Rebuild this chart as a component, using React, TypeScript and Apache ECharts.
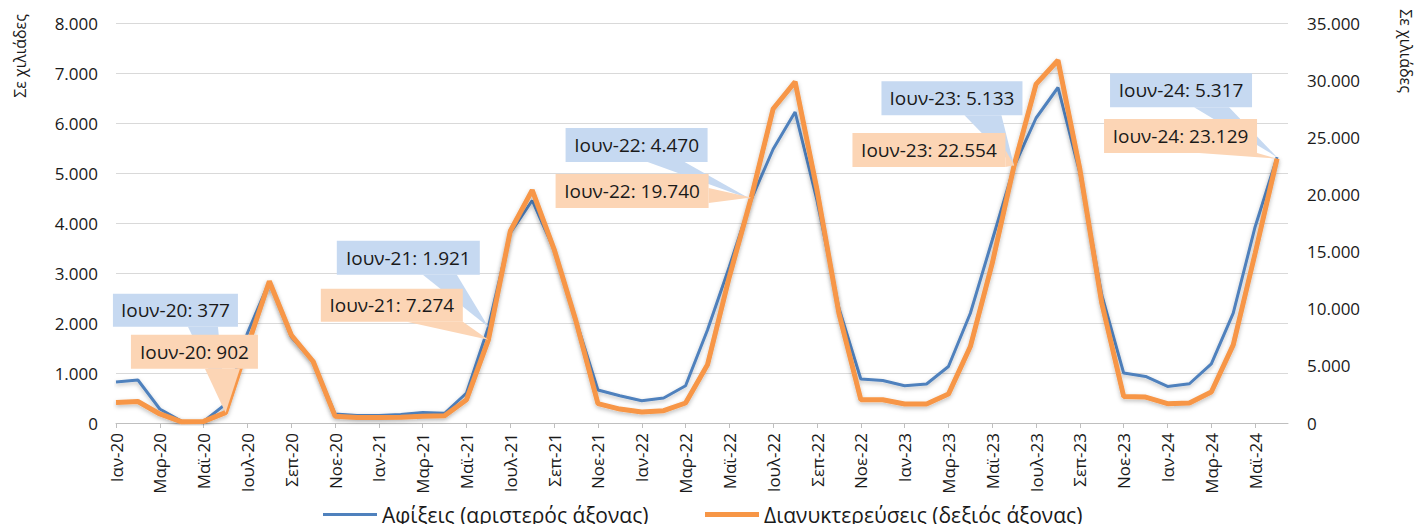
import React, { useEffect, useRef } from "react";
import * as echarts from "echarts";

const categories = [
  "Ιαν-20","Φεβ-20","Μαρ-20","Απρ-20","Μαϊ-20","Ιουν-20","Ιουλ-20","Αυγ-20","Σεπ-20","Οκτ-20","Νοε-20","Δεκ-20",
  "Ιαν-21","Φεβ-21","Μαρ-21","Απρ-21","Μαϊ-21","Ιουν-21","Ιουλ-21","Αυγ-21","Σεπ-21","Οκτ-21","Νοε-21","Δεκ-21",
  "Ιαν-22","Φεβ-22","Μαρ-22","Απρ-22","Μαϊ-22","Ιουν-22","Ιουλ-22","Αυγ-22","Σεπ-22","Οκτ-22","Νοε-22","Δεκ-22",
  "Ιαν-23","Φεβ-23","Μαρ-23","Απρ-23","Μαϊ-23","Ιουν-23","Ιουλ-23","Αυγ-23","Σεπ-23","Οκτ-23","Νοε-23","Δεκ-23",
  "Ιαν-24","Φεβ-24","Μαρ-24","Απρ-24","Μαϊ-24","Ιουν-24",
];

// Αφίξεις (χιλιάδες) – αριστερός άξονας
const arrivals = [
  820, 860, 280, 35, 30, 377, 1800, 2830, 1720, 1230, 180, 150,
  150, 170, 210, 195, 600, 1921, 3800, 4450, 3460, 2050, 660, 545,
  445, 500, 745, 1860, 3130, 4470, 5480, 6220, 4450, 2300, 880, 850,
  745, 780, 1130, 2196, 3660, 5133, 6100, 6710, 4990, 2560, 998, 931,
  731, 785, 1184, 2196, 3926, 5317,
];

// Διανυκτερεύσεις (χιλιάδες) – δεξιός άξονας
const overnights = [
  1800, 1880, 790, 100, 140, 902, 6700, 12400, 7700, 5380, 600, 490,
  480, 500, 580, 640, 2036, 7274, 16800, 20380, 15200, 8900, 1690, 1220,
  960, 1075, 1750, 5090, 12800, 19740, 27500, 29850, 20400, 9600, 2040, 2030,
  1660, 1670, 2530, 6690, 13980, 22554, 29650, 31740, 22200, 10480, 2320, 2270,
  1690, 1750, 2710, 6840, 14850, 23129,
];

const leftTicks = { min: 0, max: 8000, interval: 1000 };
const rightTicks = { min: 0, max: 35000, interval: 5000 };
const calloutIdx = [5, 17, 29, 41, 53];
const seriesNames = ["Αφίξεις (αριστερός άξονας)", "Διανυκτερεύσεις (δεξιός άξονας)"];
const axisTitle = "Σε χιλιάδες";

const BLUE = "#4F81BD";
const ORANGE = "#F79646";
const BLUE_BOX = "#C6D9F1";
const ORANGE_BOX = "#FCD5B5";
const FONT = "'Open Sans', 'Noto Sans', sans-serif";
const TXT = "#1a1a1a";

// callout layout relative to data point: box offset, size, wedge base (relative to box)
const blueLayout = [
  { dx: -112.6, dy: -110.4, w: 125, h: 33, base: [[75, 33], [105, 33]] },
  { dx: -151.6, dy: -86.1, w: 143, h: 34, base: [[86, 34], [120, 34]] },
  { dx: -185.7, dy: -71.4, w: 142, h: 34, base: [[82, 34], [119, 34]] },
  { dx: -132.7, dy: -85.2, w: 141, h: 34, base: [[83, 34], [120, 34]] },
  { dx: -167, dy: -84, w: 142, h: 34, base: [[84, 34], [119, 34]] },
];
const orangeLayout = [
  { dx: -94.6, dy: -78, w: 127, h: 34, base: [[74, 34], [109, 34]] },
  { dx: -167.6, dy: -51, w: 142, h: 33, base: [[86, 33], [142, 33]] },
  { dx: -195.7, dy: -23.4, w: 153, h: 34, base: [[153, 14], [153, 29]] },
  { dx: -161.7, dy: -32.2, w: 153, h: 34, base: [[153, 17], [153, 34]] },
  { dx: -173, dy: -39.6, w: 153, h: 34, base: [[95, 34], [153, 34]] },
];

const fmt = (v: number) => String(v).replace(/\B(?=(\d{3})+(?!\d))/g, ".");

export default function App() {
  const ref = useRef<HTMLDivElement>(null);

  useEffect(() => {
    document.body.style.margin = "0";
    if (!ref.current) return;
    const chart = echarts.init(ref.current, undefined, { renderer: "svg" });
    const tickIdx = categories.map((_, i) => i).filter((i) => i % 2 === 0);

    const legendBase = {
      top: 499,
      itemWidth: 54,
      icon: "rect",
      textStyle: { fontSize: 21, color: TXT, fontFamily: FONT },
    };

    chart.setOption({
      animation: false,
      backgroundColor: "#ffffff",
      textStyle: { fontFamily: FONT },
      grid: { left: 116, right: 140, top: 23, bottom: 101, containLabel: false },
      legend: [
        { ...legendBase, left: 318, itemHeight: 3, data: [seriesNames[0]] },
        { ...legendBase, left: 700, itemHeight: 5, data: [seriesNames[1]] },
      ],
      xAxis: {
        type: "value",
        min: 0,
        max: categories.length - 0.5,
        axisLine: { show: true, lineStyle: { color: "#BFBFBF", width: 1 } },
        axisTick: { show: true, length: 5, customValues: tickIdx, lineStyle: { color: "#BFBFBF" } },
        splitLine: { show: false },
        axisLabel: {
          customValues: tickIdx,
          rotate: 90,
          margin: 10,
          fontSize: 17,
          color: TXT,
          fontFamily: FONT,
          formatter: (v: number) => categories[v] ?? "",
        },
      },
      yAxis: [
        {
          type: "value",
          ...leftTicks,
          axisLine: { show: false },
          axisTick: { show: false },
          splitLine: { show: true, lineStyle: { color: "#D9D9D9", width: 1 } },
          axisLabel: { fontSize: 17, color: TXT, margin: 18, fontFamily: FONT, formatter: (v: number) => fmt(v) },
        },
        {
          type: "value",
          ...rightTicks,
          position: "right",
          axisLine: { show: false },
          axisTick: { show: false },
          splitLine: { show: false },
          axisLabel: { fontSize: 17, color: TXT, margin: 19, fontFamily: FONT, formatter: (v: number) => fmt(v) },
        },
      ],
      series: [
        {
          name: seriesNames[0],
          type: "line",
          yAxisIndex: 0,
          symbol: "none",
          showSymbol: false,
          data: arrivals.map((v, i) => [i, v]),
          lineStyle: {
            color: BLUE,
            width: 3,
            shadowColor: "rgba(0,0,0,0.25)",
            shadowBlur: 4,
            shadowOffsetY: 2,
          },
          itemStyle: { color: BLUE },
          z: 2,
        },
        {
          name: seriesNames[1],
          type: "line",
          yAxisIndex: 1,
          symbol: "none",
          showSymbol: false,
          data: overnights.map((v, i) => [i, v]),
          lineStyle: {
            color: ORANGE,
            width: 5,
            shadowColor: "rgba(0,0,0,0.25)",
            shadowBlur: 4,
            shadowOffsetY: 2,
          },
          itemStyle: { color: ORANGE },
          z: 3,
        },
      ],
    });

    const makeCallouts = (
      values: number[],
      yAxisIndex: number,
      layout: typeof blueLayout,
      fill: string,
      z: number
    ) => {
      const els: any[] = [];
      calloutIdx.forEach((idx, k) => {
        const p = chart.convertToPixel({ xAxisIndex: 0, yAxisIndex }, [idx, values[idx]]) as number[];
        const L = layout[k];
        const bx = p[0] + L.dx;
        const by = p[1] + L.dy;
        els.push({
          type: "polygon",
          z,
          shape: { points: [[bx + L.base[0][0], by + L.base[0][1]], [bx + L.base[1][0], by + L.base[1][1]], [p[0], p[1]]] },
          style: { fill },
          silent: true,
        });
        els.push({
          type: "rect",
          z,
          shape: { x: bx, y: by, width: L.w, height: L.h },
          style: { fill },
          silent: true,
        });
        els.push({
          type: "text",
          z: z + 1,
          x: bx + L.w / 2,
          y: by + L.h / 2,
          style: {
            text: `${categories[idx]}: ${fmt(values[idx])}`,
            fill: TXT,
            font: `19px ${FONT}`,
            textAlign: "center",
            textVerticalAlign: "middle",
            verticalAlign: "middle",
          },
          silent: true,
        });
      });
      return els;
    };

    chart.setOption({
      graphic: [
        ...makeCallouts(arrivals, 0, blueLayout, BLUE_BOX, 10),
        ...makeCallouts(overnights, 1, orangeLayout, ORANGE_BOX, 20),
        {
          type: "text",
          x: 20,
          y: 56,
          rotation: Math.PI / 2,
          style: {
            text: axisTitle,
            fill: TXT,
            font: `16px ${FONT}`,
            textAlign: "center",
            textVerticalAlign: "middle",
            verticalAlign: "middle",
          },
        },
        {
          type: "text",
          x: 1406,
          y: 51,
          rotation: -Math.PI / 2,
          style: {
            text: axisTitle,
            fill: TXT,
            font: `16px ${FONT}`,
            textAlign: "center",
            textVerticalAlign: "middle",
            verticalAlign: "middle",
          },
        },
      ],
    });

    return () => chart.dispose();
  }, []);

  return <div ref={ref} style={{ width: 1428, height: 524 }} />;
}
